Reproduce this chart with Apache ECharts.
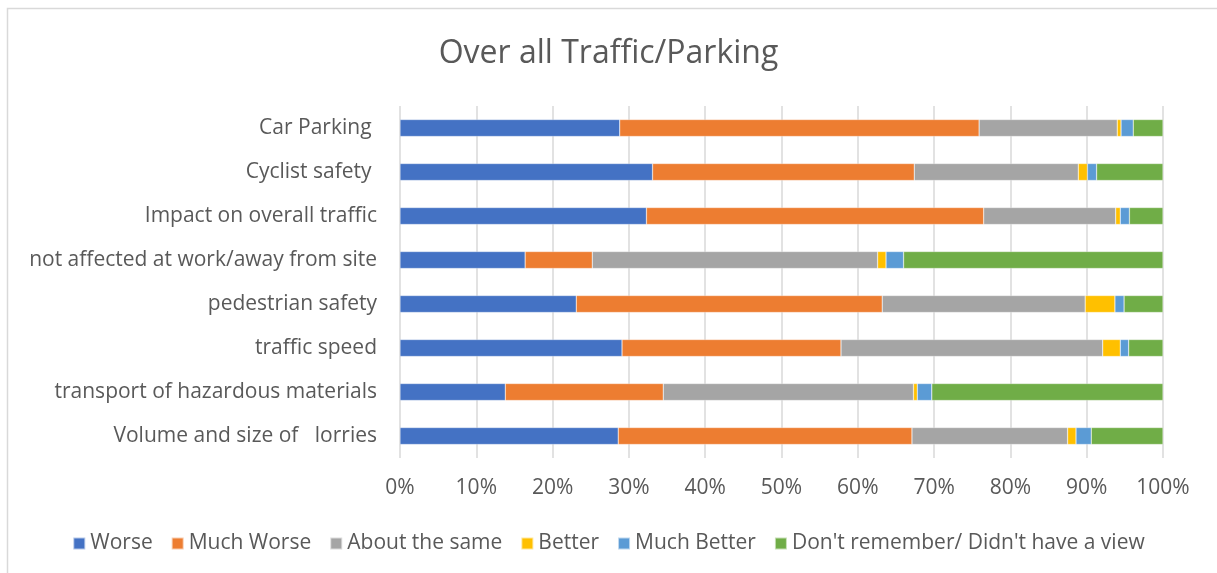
<!DOCTYPE html>
<html>
<head>
<meta charset="utf-8">
<title>Over all Traffic/Parking</title>
<script src="https://cdn.jsdelivr.net/npm/echarts@6/dist/echarts.min.js"></script>
<style>
	html, body { margin: 0; padding: 0; background: #fff; }
	#chart { width: 1217px; height: 573px; }
</style>
</head>
<body>
<div id="chart"></div>
<script>
	// categories, top to bottom
	const categories = [
		'Car Parking ',
		'Cyclist safety ',
		'Impact on overall traffic',
		'not affected at work/away from site',
		'pedestrian safety',
		'traffic speed',
		'transport of hazardous materials',
		'Volume and size of   lorries'
	]

	// share of answers (%) per category
	const worse      = [28.8, 33.1, 32.3, 16.4, 23.1, 29.1, 13.8, 28.6]
	const muchWorse  = [47.1, 34.3, 44.2,  8.8, 40.1, 28.7, 20.7, 38.5]
	const aboutSame  = [18.1, 21.5, 17.3, 37.4, 26.6, 34.3, 32.8, 20.4]
	const better     = [ 0.5,  1.2,  0.6,  1.1,  3.9,  2.3,  0.5,  1.1]
	const muchBetter = [ 1.6,  1.2,  1.2,  2.3,  1.2,  1.1,  1.9,  2.0]
	const noView     = [ 3.9,  8.7,  4.4, 34.0,  5.1,  4.5, 30.3,  9.4]

	const seriesNames = ['Worse', 'Much Worse', 'About the same', 'Better', 'Much Better', "Don't remember/ Didn't have a view"]
	const seriesData = [worse, muchWorse, aboutSame, better, muchBetter, noView]
	const colors = ['#4472C4', '#ED7D31', '#A5A5A5', '#FFC000', '#5B9BD5', '#70AD47']

	const textColor = '#595959'
	const fontFamily = '"Open Sans", Lato, sans-serif'

	const myChart = echarts.init(document.getElementById('chart'))

	const option = {
		backgroundColor: '#fff',
		color: colors,
		textStyle: { fontFamily: fontFamily },
		title: {
			text: 'Over all Traffic/Parking',
			left: 'center',
			top: 33,
			textStyle: { color: textColor, fontSize: 32, fontWeight: 'normal', fontFamily: fontFamily }
		},
		legend: {
			bottom: 14,
			left: 'center',
			itemWidth: 12,
			itemHeight: 12,
			itemGap: 18,
			icon: 'rect',
			textStyle: { color: textColor, fontSize: 21, fontFamily: fontFamily },
			data: seriesNames
		},
		grid: {
			left: 400,
			right: 54,
			top: 106,
			bottom: 115
		},
		xAxis: {
			type: 'value',
			min: 0,
			max: 100,
			interval: 10,
			axisLine: { show: false },
			axisTick: { show: false },
			axisLabel: {
				formatter: '{value}%',
				color: textColor,
				fontSize: 21,
				margin: 20,
				fontFamily: fontFamily
			},
			splitLine: { lineStyle: { color: '#d9d9d9', width: 1.5 } }
		},
		yAxis: {
			type: 'category',
			inverse: true,
			data: categories,
			axisLine: { show: false },
			axisTick: { show: false },
			axisLabel: {
				color: textColor,
				fontSize: 21,
				margin: 23,
				fontFamily: fontFamily
			}
		},
		graphic: [{
			type: 'rect',
			shape: { x: 7.5, y: 8.5, width: 1300, height: 700 },
			style: { fill: 'none', stroke: '#d9d9d9', lineWidth: 1.5 },
			silent: true,
			z: -1
		}],
		series: seriesNames.map((name, i) => ({
			name: name,
			type: 'bar',
			stack: 'total',
			barWidth: 17,
			itemStyle: { borderColor: 'rgba(255,255,255,0.6)', borderWidth: 0.5 },
			data: seriesData[i]
		}))
	}

	myChart.setOption(option)
</script>
</body>
</html>
